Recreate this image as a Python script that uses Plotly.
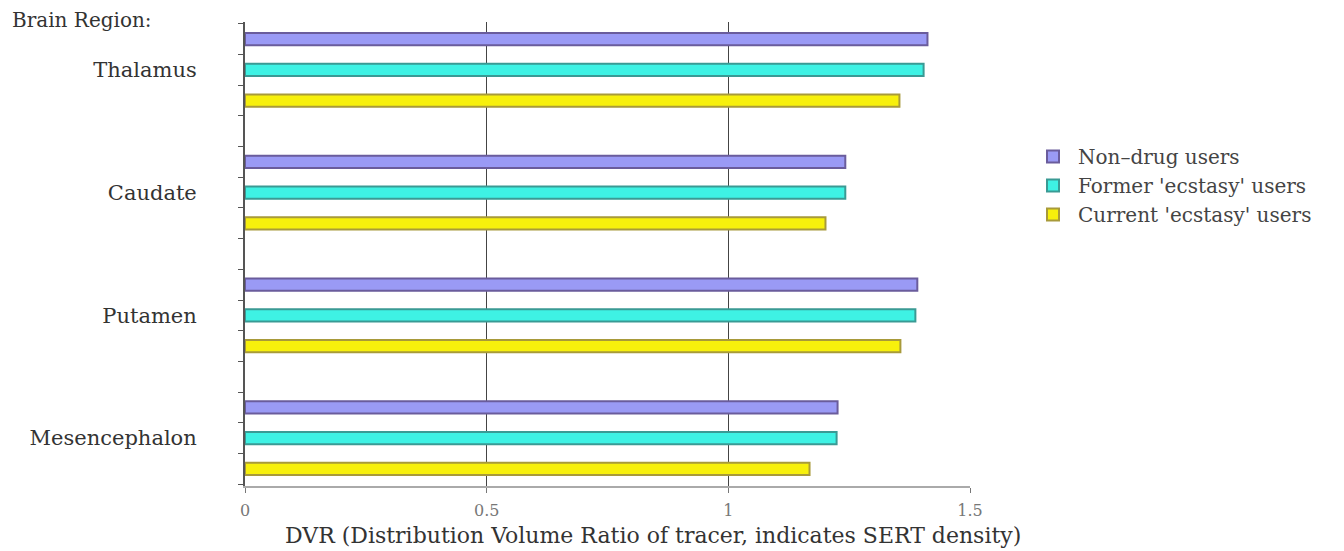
import plotly.graph_objects as go

regions = ["Thalamus", "Caudate", "Putamen", "Mesencephalon"]
series_names = ["Non\u2013drug users", "Former 'ecstasy' users", "Current 'ecstasy' users"]
non_drug = [1.412, 1.242, 1.391, 1.226]
former = [1.404, 1.242, 1.387, 1.224]
current = [1.354, 1.201, 1.356, 1.168]
x_ticks = [0, 0.5, 1, 1.5]
x_tick_labels = ["0", "0.5", "1", "1.5"]
x_title = "DVR (Distribution Volume Ratio of tracer, indicates SERT density)"

fills = ["#9a9af5", "#3ef2e4", "#f7f00c"]
borders = ["#6a5c9c", "#3a9a94", "#a89a3a"]

pos = list(range(len(regions)))
fig = go.Figure()
for name, vals, fc, bc in zip(series_names, [non_drug, former, current], fills, borders):
    fig.add_trace(go.Bar(
        y=pos, x=vals, orientation="h", name=name,
        marker=dict(color=fc, line=dict(color=bc, width=2)),
    ))

serif = "DejaVu Serif, Liberation Serif, serif"
W, H = 1336, 543
L, R, T, B = 237, 374, 14, 65
pw, ph = W - L - R, H - T - B
fig.update_layout(
    width=W, height=H,
    margin=dict(l=L, r=R, t=T, b=B),
    paper_bgcolor="white", plot_bgcolor="white",
    barmode="group", bargap=0.25, bargroupgap=0.6,
    font=dict(family=serif, color="#333333"),
    showlegend=True,
    legend=dict(x=1.08, y=0.752, xanchor="left", yanchor="top",
                traceorder="normal", font=dict(size=20, family=serif, color="#444444"),
                itemwidth=40, tracegroupgap=2, bgcolor="rgba(0,0,0,0)"),
    xaxis=dict(range=[0, 1.5], tickvals=x_ticks, ticktext=x_tick_labels,
               showgrid=True, gridcolor="#444444", gridwidth=1,
               showline=True, linecolor="#aaaaaa", linewidth=2,
               ticks="outside", ticklen=5, tickcolor="#777777",
               tickfont=dict(size=16, color="#777777", family=serif),
               ticklabelstandoff=4,
               zeroline=False),
    yaxis=dict(range=[3.39, -0.39], tickmode="array", tickvals=pos, ticktext=regions,
               ticks="", showgrid=False, zeroline=False,
               showline=True, linecolor="#555555", linewidth=2,
               tickfont=dict(size=21, color="#333333", family=serif),
               ticklabelstandoff=42,
               minor=dict(tickmode="linear", tick0=0.125, dtick=0.25, ticks="outside",
                          ticklen=5, tickcolor="#555555", showgrid=False)),
)
fig.add_annotation(text="Brain Region:", xref="paper", yref="paper",
                   x=-(L - 2) / pw, y=1 + 2 / ph, xanchor="left", yanchor="middle",
                   showarrow=False, font=dict(size=20, family=serif, color="#333333"))
fig.add_annotation(text=x_title, xref="paper", yref="paper",
                   x=(653 - 245) / pw, y=-(527 - 478) / ph, xanchor="center", yanchor="middle",
                   showarrow=False, font=dict(size=22, family=serif, color="#333333"))

fig.write_html("out.html")
